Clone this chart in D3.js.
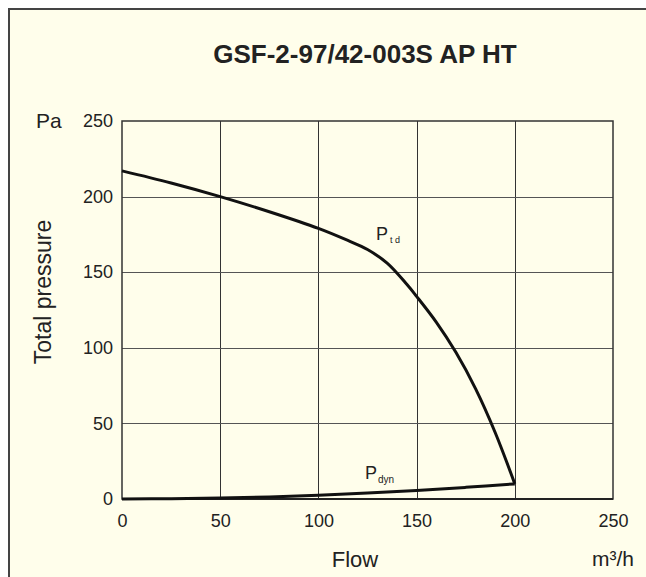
<!DOCTYPE html>
<html><head><meta charset="utf-8">
<script src="https://cdn.jsdelivr.net/npm/d3@7"></script>
<style>
body{margin:0;background:#fff;}
text{font-family:"Liberation Sans",Arial,sans-serif;fill:#222;}
</style></head>
<body><svg id="c" width="646" height="577"></svg>
<script>
const title = "GSF-2-97/42-003S AP HT";
const xTicks = [0, 50, 100, 150, 200, 250];
const yTicks = [0, 50, 100, 150, 200, 250];
const totFlow = [0, 25, 50, 75, 100, 115, 125, 135, 145, 150, 160, 170, 180, 190, 200];
const totPress = [217, 209, 200, 190, 179, 171, 165, 156, 142, 134, 117, 97, 73, 44, 10];
const dynFlow = [0, 25, 50, 75, 100, 125, 150, 175, 200];
const dynPress = [0, 0.2, 0.6, 1.4, 2.5, 3.9, 5.6, 7.7, 10];

const svg = d3.select("#c");
svg.append("rect").attr("x", 8).attr("y", 8).attr("width", 640).attr("height", 570).attr("fill", "#fffeeb");
svg.append("path").attr("d", "M9,578V9H646").attr("fill", "none").attr("stroke", "#444").attr("stroke-width", 2);

const L = 122, R = 613, T = 121, B = 499;
const x = d3.scaleLinear().domain([0, 250]).range([L, R]);
const y = d3.scaleLinear().domain([0, 250]).range([B, T]);

const g = svg.append("g");
g.selectAll(".vg").data(xTicks.slice(1, -1)).enter().append("line")
  .attr("x1", d => Math.round(x(d)) + 0.5).attr("x2", d => Math.round(x(d)) + 0.5)
  .attr("y1", T).attr("y2", B).attr("stroke", "#333").attr("stroke-width", 1);
g.selectAll(".hg").data(yTicks.slice(1, -1)).enter().append("line")
  .attr("y1", d => Math.round(y(d)) + 0.5).attr("y2", d => Math.round(y(d)) + 0.5)
  .attr("x1", L).attr("x2", R).attr("stroke", "#555").attr("stroke-width", 1);
g.append("rect").attr("x", L).attr("y", T).attr("width", R - L).attr("height", B - T)
  .attr("fill", "none").attr("stroke", "#333").attr("stroke-width", 1.5);
g.append("line").attr("x1", L).attr("x2", R).attr("y1", B).attr("y2", B).attr("stroke", "#222").attr("stroke-width", 2);

const xAxis = d3.axisBottom(x).tickValues(xTicks).tickSize(0).tickPadding(15);
const ya = d3.axisLeft(y).tickValues(yTicks).tickSize(0).tickPadding(9);
const gx = svg.append("g").attr("transform", `translate(0,${B})`).call(xAxis);
const gy = svg.append("g").attr("transform", `translate(${L},0)`).call(ya);
[gx, gy].forEach(a => {
  a.select(".domain").remove();
  a.selectAll("text").style("font-size", "18px").style("fill", "#222")
    .style("font-family", '"Liberation Sans",Arial,sans-serif');
});

const line = d3.line().x(d => x(d[0])).y(d => y(d[1])).curve(d3.curveCatmullRom.alpha(0.5));
svg.append("path").datum(totFlow.map((f, i) => [f, totPress[i]]))
  .attr("d", line).attr("fill", "none").attr("stroke", "#111").attr("stroke-width", 3);
svg.append("path").datum(dynFlow.map((f, i) => [f, dynPress[i]]))
  .attr("d", line).attr("fill", "none").attr("stroke", "#111").attr("stroke-width", 3);

const t1 = svg.append("text").attr("x", 376).attr("y", 240).style("font-size", "18px");
t1.append("tspan").text("P");
t1.append("tspan").attr("dy", 3).attr("dx", 2).style("font-size", "9px").text("t d");
const t2 = svg.append("text").attr("x", 365).attr("y", 479).style("font-size", "18px");
t2.append("tspan").text("P");
t2.append("tspan").attr("dy", 4).attr("dx", 1).style("font-size", "10px").text("dyn");

svg.append("text").attr("x", 365).attr("y", 63).attr("text-anchor", "middle")
  .style("font-size", "26px").style("font-weight", "bold").text(title);
svg.append("text").attr("x", 36).attr("y", 128).style("font-size", "21px").text("Pa");
svg.append("text").attr("transform", "translate(51,292) rotate(-90)").attr("text-anchor", "middle")
  .style("font-size", "23px").text("Total pressure");
svg.append("text").attr("x", 355).attr("y", 567).attr("text-anchor", "middle").style("font-size", "22px").text("Flow");
svg.append("text").attr("x", 592).attr("y", 566).style("font-size", "21px").text("m³/h");
</script></body></html>
